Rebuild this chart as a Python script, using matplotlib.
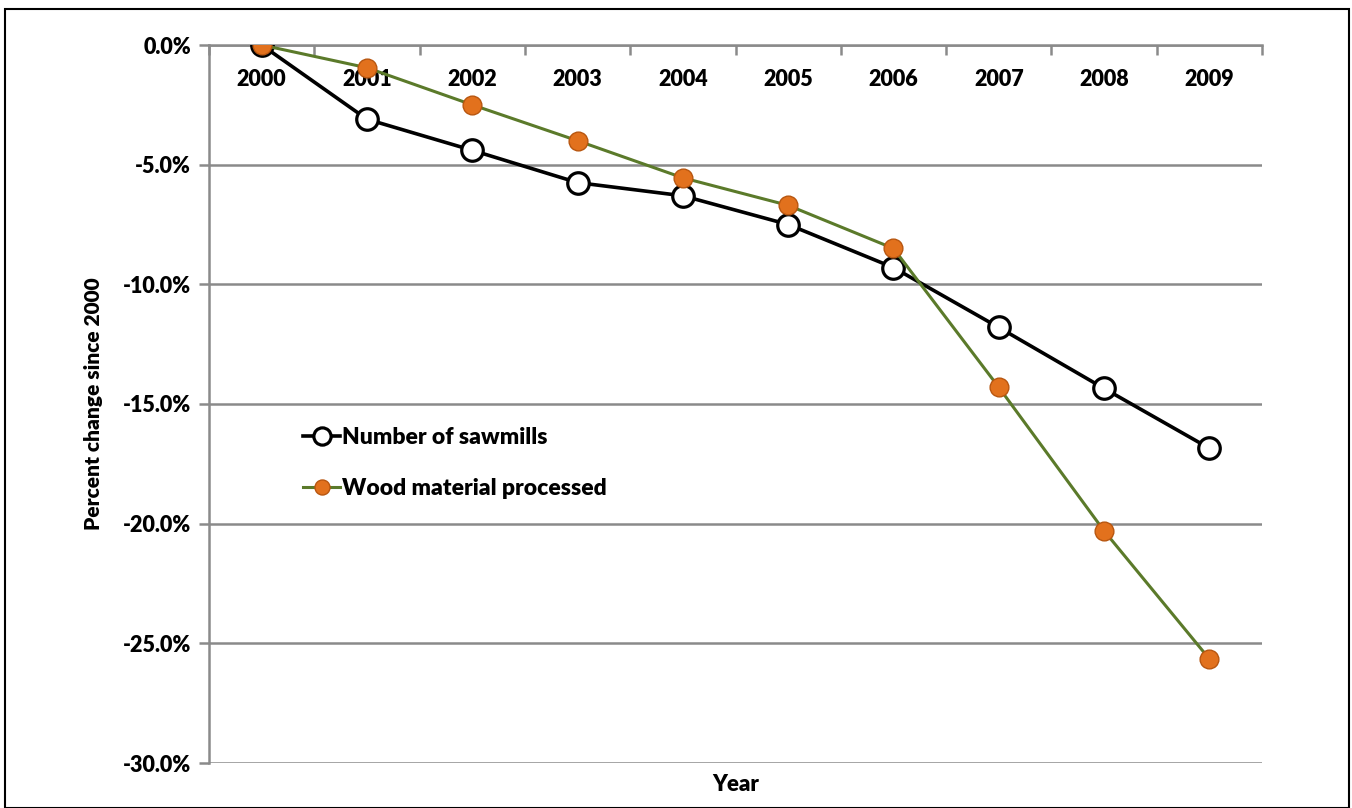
import numpy as np
import matplotlib
matplotlib.use('Agg')
import matplotlib.pyplot as plt
from matplotlib.ticker import FuncFormatter, MultipleLocator

plt.rcParams['font.family'] = ['Lato', 'DejaVu Sans']
W = 'heavy'

years = ['2000', '2001', '2002', '2003', '2004', '2005', '2006', '2007', '2008', '2009']
sawmills = [0.0, -3.1, -4.4, -5.75, -6.3, -7.5, -9.3, -11.8, -14.35, -16.85]
wood = [0.0, -0.95, -2.5, -4.0, -5.55, -6.7, -8.5, -14.3, -20.3, -25.65]

grid_c = '#8a8a8a'

fig = plt.figure(figsize=(13.52, 8.08), dpi=100)
ax = fig.add_axes([209/1352, 45/808, (1262-209)/1352, (763-45)/808])

x = np.arange(len(years))
ax.plot(x, sawmills, color='black', lw=2.6, marker='o', ms=15.5, mfc='white',
        mec='black', mew=2.3, label='Number of sawmills', zorder=3)
ax.plot(x, wood, color='#5b7a2a', lw=2.2, marker='o', ms=13.5, mfc='#e2711d',
        mec='#b85610', mew=1, label='Wood material processed', zorder=4)

ax.set_xlim(-0.5, len(years) - 0.5)
ax.set_ylim(-30, 0)
ax.yaxis.set_major_locator(MultipleLocator(5))
ax.yaxis.set_major_formatter(FuncFormatter(lambda v, p: f'{v:.1f}%'))
ax.grid(axis='y', color=grid_c, lw=1.8)
ax.set_axisbelow(True)

for s in ['right', 'bottom']:
    ax.spines[s].set_visible(False)
ax.spines['left'].set_color(grid_c)
ax.spines['left'].set_linewidth(1.8)
ax.spines['top'].set_color(grid_c)
ax.spines['top'].set_linewidth(1.8)

# category axis runs along the top (y = 0), ticks between categories
ax.xaxis.tick_top()
ax.set_xticks(np.arange(-0.5, len(years) + 0.5, 1))
ax.set_xticklabels([])
ax.tick_params(axis='x', direction='in', length=7, width=1.8, color=grid_c)
ax.tick_params(axis='y', direction='out', length=7, width=1.8, color=grid_c,
               labelsize=15.5, pad=6)
for lab in ax.get_yticklabels():
    lab.set_fontweight(W)
for i, yr in enumerate(years):
    ax.text(i, -1.45, yr, ha='center', va='center', fontsize=15.5, fontweight=W)

ax.set_ylabel('Percent change since 2000', fontsize=15, fontweight=W, labelpad=14)
ax.text(0.5, -0.015, 'Year', transform=ax.transAxes, ha='center', va='top',
        fontsize=16, fontweight=W)

leg = ax.legend(loc='center left', bbox_to_anchor=(0.07, 0.418), frameon=False,
                fontsize=16.5, handlelength=1.6, handletextpad=0.1, labelspacing=1.3,
                markerscale=0.8)
for t in leg.get_texts():
    t.set_fontweight(W)

# outer chart frame
fig.patches.append(plt.Rectangle((5/1352, 0), (1349-5)/1352, 1 - 9/808,
                                 transform=fig.transFigure, fill=False,
                                 edgecolor='black', lw=1.5))

fig.savefig('out.png', dpi=100)
